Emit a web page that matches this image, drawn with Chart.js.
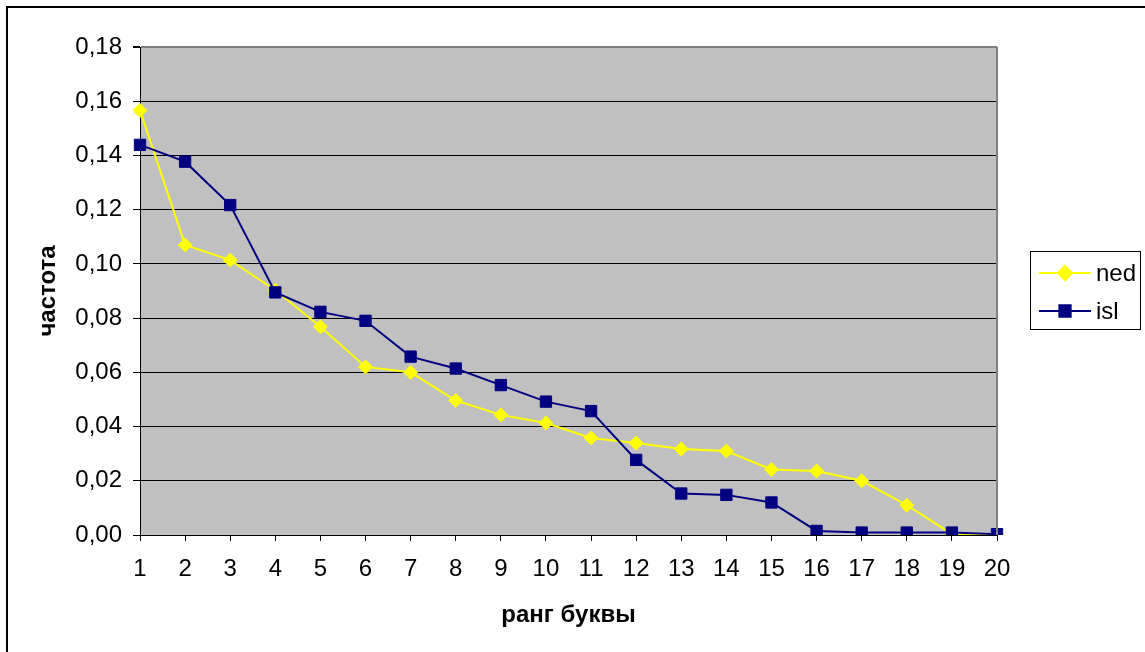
<!DOCTYPE html>
<html>
<head>
<meta charset="utf-8">
<script src="https://cdn.jsdelivr.net/npm/chart.js@4/dist/chart.umd.min.js"></script>
<style>
  html, body { margin: 0; padding: 0; background: #fff; overflow: hidden; }
  canvas { display: block; }
</style>
</head>
<body>
<canvas id="chart" width="1145" height="652"></canvas>
<script>
const ranks = ['1', '2', '3', '4', '5', '6', '7', '8', '9', '10',
  '11', '12', '13', '14', '15', '16', '17', '18', '19', '20'];
const ned = [0.1566, 0.107, 0.1014, 0.0903, 0.0768, 0.062, 0.060, 0.0496, 0.0443, 0.0413,
  0.0358, 0.0339, 0.0317, 0.031, 0.0242, 0.0236, 0.020, 0.011, 0.0004, 0.0];
const isl = [0.1439, 0.1377, 0.1217, 0.0895, 0.0823, 0.079, 0.0658, 0.0614, 0.0553, 0.0492,
  0.0457, 0.0277, 0.0153, 0.0148, 0.012, 0.0015, 0.0009, 0.0009, 0.0009, 0.0003];
const seriesNames = ['ned', 'isl'];
const yTitle = 'частота';
const xTitle = 'ранг буквы';

const FONT = 'Liberation Sans, Arial, sans-serif';

// plot background, right border, outer frame and legend
const decor = {
  id: 'decor',
  beforeDraw(chart) {
    const { ctx, chartArea: a } = chart;
    ctx.save();
    ctx.fillStyle = '#c0c0c0';
    ctx.fillRect(a.left, a.top, a.right - a.left, a.bottom - a.top);
    ctx.restore();
  },
  afterDraw(chart) {
    const { ctx, chartArea: a } = chart;
    ctx.save();
    ctx.strokeStyle = '#808080';
    ctx.lineWidth = 2;
    ctx.beginPath();
    ctx.moveTo(a.right, a.top);
    ctx.lineTo(a.right, a.bottom);
    ctx.stroke();

    ctx.strokeStyle = '#000';
    ctx.lineWidth = 2;
    ctx.beginPath();
    ctx.moveTo(7, 652);
    ctx.lineTo(7, 7);
    ctx.lineTo(1145, 7);
    ctx.stroke();

    // legend
    ctx.lineWidth = 1;
    ctx.strokeRect(1030.5, 251.5, 110, 78);
    const rows = [273, 311];
    chart.data.datasets.forEach((ds, i) => {
      const y = rows[i];
      ctx.strokeStyle = ds.borderColor;
      ctx.lineWidth = 2;
      ctx.beginPath();
      ctx.moveTo(1039, y);
      ctx.lineTo(1091, y);
      ctx.stroke();
      ctx.fillStyle = ds.borderColor;
      Chart.helpers.drawPoint(ctx, {
        pointStyle: ds.pointStyle, radius: ds.pointRadius, borderWidth: 1
      }, 1065, y);
      ctx.fill();
      ctx.fillStyle = '#000';
      ctx.font = '24px ' + FONT;
      ctx.textBaseline = 'middle';
      ctx.fillText(ds.label, 1096, y + 1);
    });
    ctx.restore();
  }
};

new Chart(document.getElementById('chart').getContext('2d'), {
  type: 'line',
  data: {
    labels: ranks,
    datasets: [
      {
        label: seriesNames[0],
        data: ned,
        borderColor: '#ffff00',
        backgroundColor: '#ffff00',
        borderWidth: 2,
        pointStyle: 'rectRot',
        pointRadius: 7,
        pointBorderWidth: 1,
        order: 1,
      },
      {
        label: seriesNames[1],
        data: isl,
        borderColor: '#000080',
        backgroundColor: '#000080',
        borderWidth: 2,
        pointStyle: 'rect',
        pointRadius: 8,
        pointBorderWidth: 1,
        order: 0,
      },
    ],
  },
  options: {
    responsive: false,
    animation: false,
    layout: { padding: { top: 47, right: 148, left: 0, bottom: 0 } },
    plugins: {
      legend: { display: false },
      tooltip: { enabled: false },
    },
    scales: {
      x: {
        offset: false,
        afterFit: (scale) => { scale.height = 117; },
        grid: { drawOnChartArea: false, drawTicks: true, tickLength: 6, tickColor: '#000', color: '#000' },
        border: { display: true, color: '#000', width: 1 },
        ticks: { color: '#000', font: { family: FONT, size: 24 }, padding: 14, maxRotation: 0, autoSkip: false },
        title: { display: true, text: xTitle, color: '#000', font: { family: FONT, size: 24, weight: 'bold' }, padding: { top: 0, bottom: 22 } },
      },
      y: {
        min: 0,
        max: 0.18,
        afterFit: (scale) => { scale.width = 140; },
        grid: {
          color: (c) => (c.tick && c.tick.value > 0.179 ? '#808080' : '#000'),
          lineWidth: (c) => (c.tick && c.tick.value > 0.179 ? 2 : 1),
          drawTicks: true, tickLength: 7, tickColor: '#000',
        },
        border: { display: true, color: '#000', width: 1 },
        ticks: {
          stepSize: 0.02,
          color: '#000',
          font: { family: FONT, size: 24 },
          padding: 11,
          callback: (v) => v.toFixed(2).replace('.', ','),
        },
        title: { display: true, text: yTitle, color: '#000', font: { family: FONT, size: 24, weight: 'bold' }, padding: { top: 34, bottom: 0 } },
      },
    },
  },
  plugins: [decor],
});
</script>
</body>
</html>
